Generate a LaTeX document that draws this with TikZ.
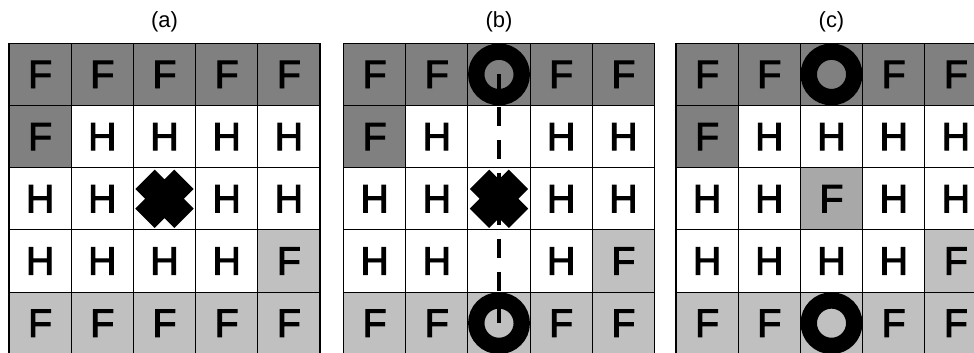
\documentclass[tikz,border=0pt]{standalone}
\usepackage{fontspec}
\setmainfont{Liberation Sans}
\newfontfamily\cellfont{Liberation Sans}[FakeBold=2.5]
\usetikzlibrary{shapes.misc, positioning}
\definecolor{cDark}{RGB}{128,128,128}
\definecolor{cLight}{RGB}{192,192,192}
\definecolor{cMid}{RGB}{168,168,168}
\tikzset{
	cell/.style={rectangle, draw=black, line width=0.6pt, minimum size=1.244cm, inner sep=0pt, outer sep=0pt, text centered, font=\cellfont\fontsize{22.5}{22}\selectfont},
	dk/.style={fill=cDark},
	lt/.style={fill=cLight},
	md/.style={fill=cMid},
	wh/.style={fill=white},
	panel/.style={font=\fontsize{12.5}{14}\selectfont, inner sep=0pt},
	% markers on the grid
	ring/.style={circle, draw=black, line width=9.3pt, minimum size=0.91cm, inner sep=0pt},
	blocked/.style={cross out, draw=black, line width=15.6pt, minimum size=0.78cm, inner sep=0pt, outer sep=0pt},
	track/.style={line width=2.3pt, dash pattern=on 10.8pt off 7.9pt},
}

\begin{document}
\begin{tikzpicture}[x=0.02cm, y=-0.02cm]
	\useasboundingbox (0,0) rectangle (974,352);
	% (a)
	\foreach \row [count=\r from 0] in {{dk/F,dk/F,dk/F,dk/F,dk/F},{dk/F,wh/H,wh/H,wh/H,wh/H},{wh/H,wh/H,wh/{},wh/H,wh/H},{wh/H,wh/H,wh/H,wh/H,lt/F},{lt/F,lt/F,lt/F,lt/F,lt/F}}
		\foreach \st/\txt [count=\c from 0] in \row
			\node[cell, \st] (a-\r-\c) at (40.1+62.2*\c, 74.4+62.2*\r) {\txt};
	\node[panel, above=0.22cm of a-0-2] (a-lbl) {(a)};
	\node[blocked] (a-x) at (a-2-2) {};
	% (b)
	\foreach \row [count=\r from 0] in {{dk/F,dk/F,dk/{},dk/F,dk/F},{dk/F,wh/H,wh/{},wh/H,wh/H},{wh/H,wh/H,wh/{},wh/H,wh/H},{wh/H,wh/H,wh/{},wh/H,lt/F},{lt/F,lt/F,lt/{},lt/F,lt/F}}
		\foreach \st/\txt [count=\c from 0] in \row
			\node[cell, \st] (b-\r-\c) at (374.6+62.2*\c, 74.4+62.2*\r) {\txt};
	\node[panel, above=0.22cm of b-0-2] (b-lbl) {(b)};
	\node[blocked] (b-x) at (b-2-2) {};
	\node[ring] (b-top) at (b-0-2) {};
	\node[ring] (b-bot) at (b-4-2) {};
	\draw[track] (b-top.center) -- (b-bot.center);
	% (c)
	\foreach \row [count=\r from 0] in {{dk/F,dk/F,dk/{},dk/F,dk/F},{dk/F,wh/H,wh/H,wh/H,wh/H},{wh/H,wh/H,md/F,wh/H,wh/H},{wh/H,wh/H,wh/H,wh/H,lt/F},{lt/F,lt/F,lt/{},lt/F,lt/F}}
		\foreach \st/\txt [count=\c from 0] in \row
			\node[cell, \st] (c-\r-\c) at (707.1+62.2*\c, 74.4+62.2*\r) {\txt};
	\node[panel, above=0.22cm of c-0-2] (c-lbl) {(c)};
	\node[ring] (c-top) at (c-0-2) {};
	\node[ring] (c-bot) at (c-4-2) {};
\end{tikzpicture}
\end{document}
